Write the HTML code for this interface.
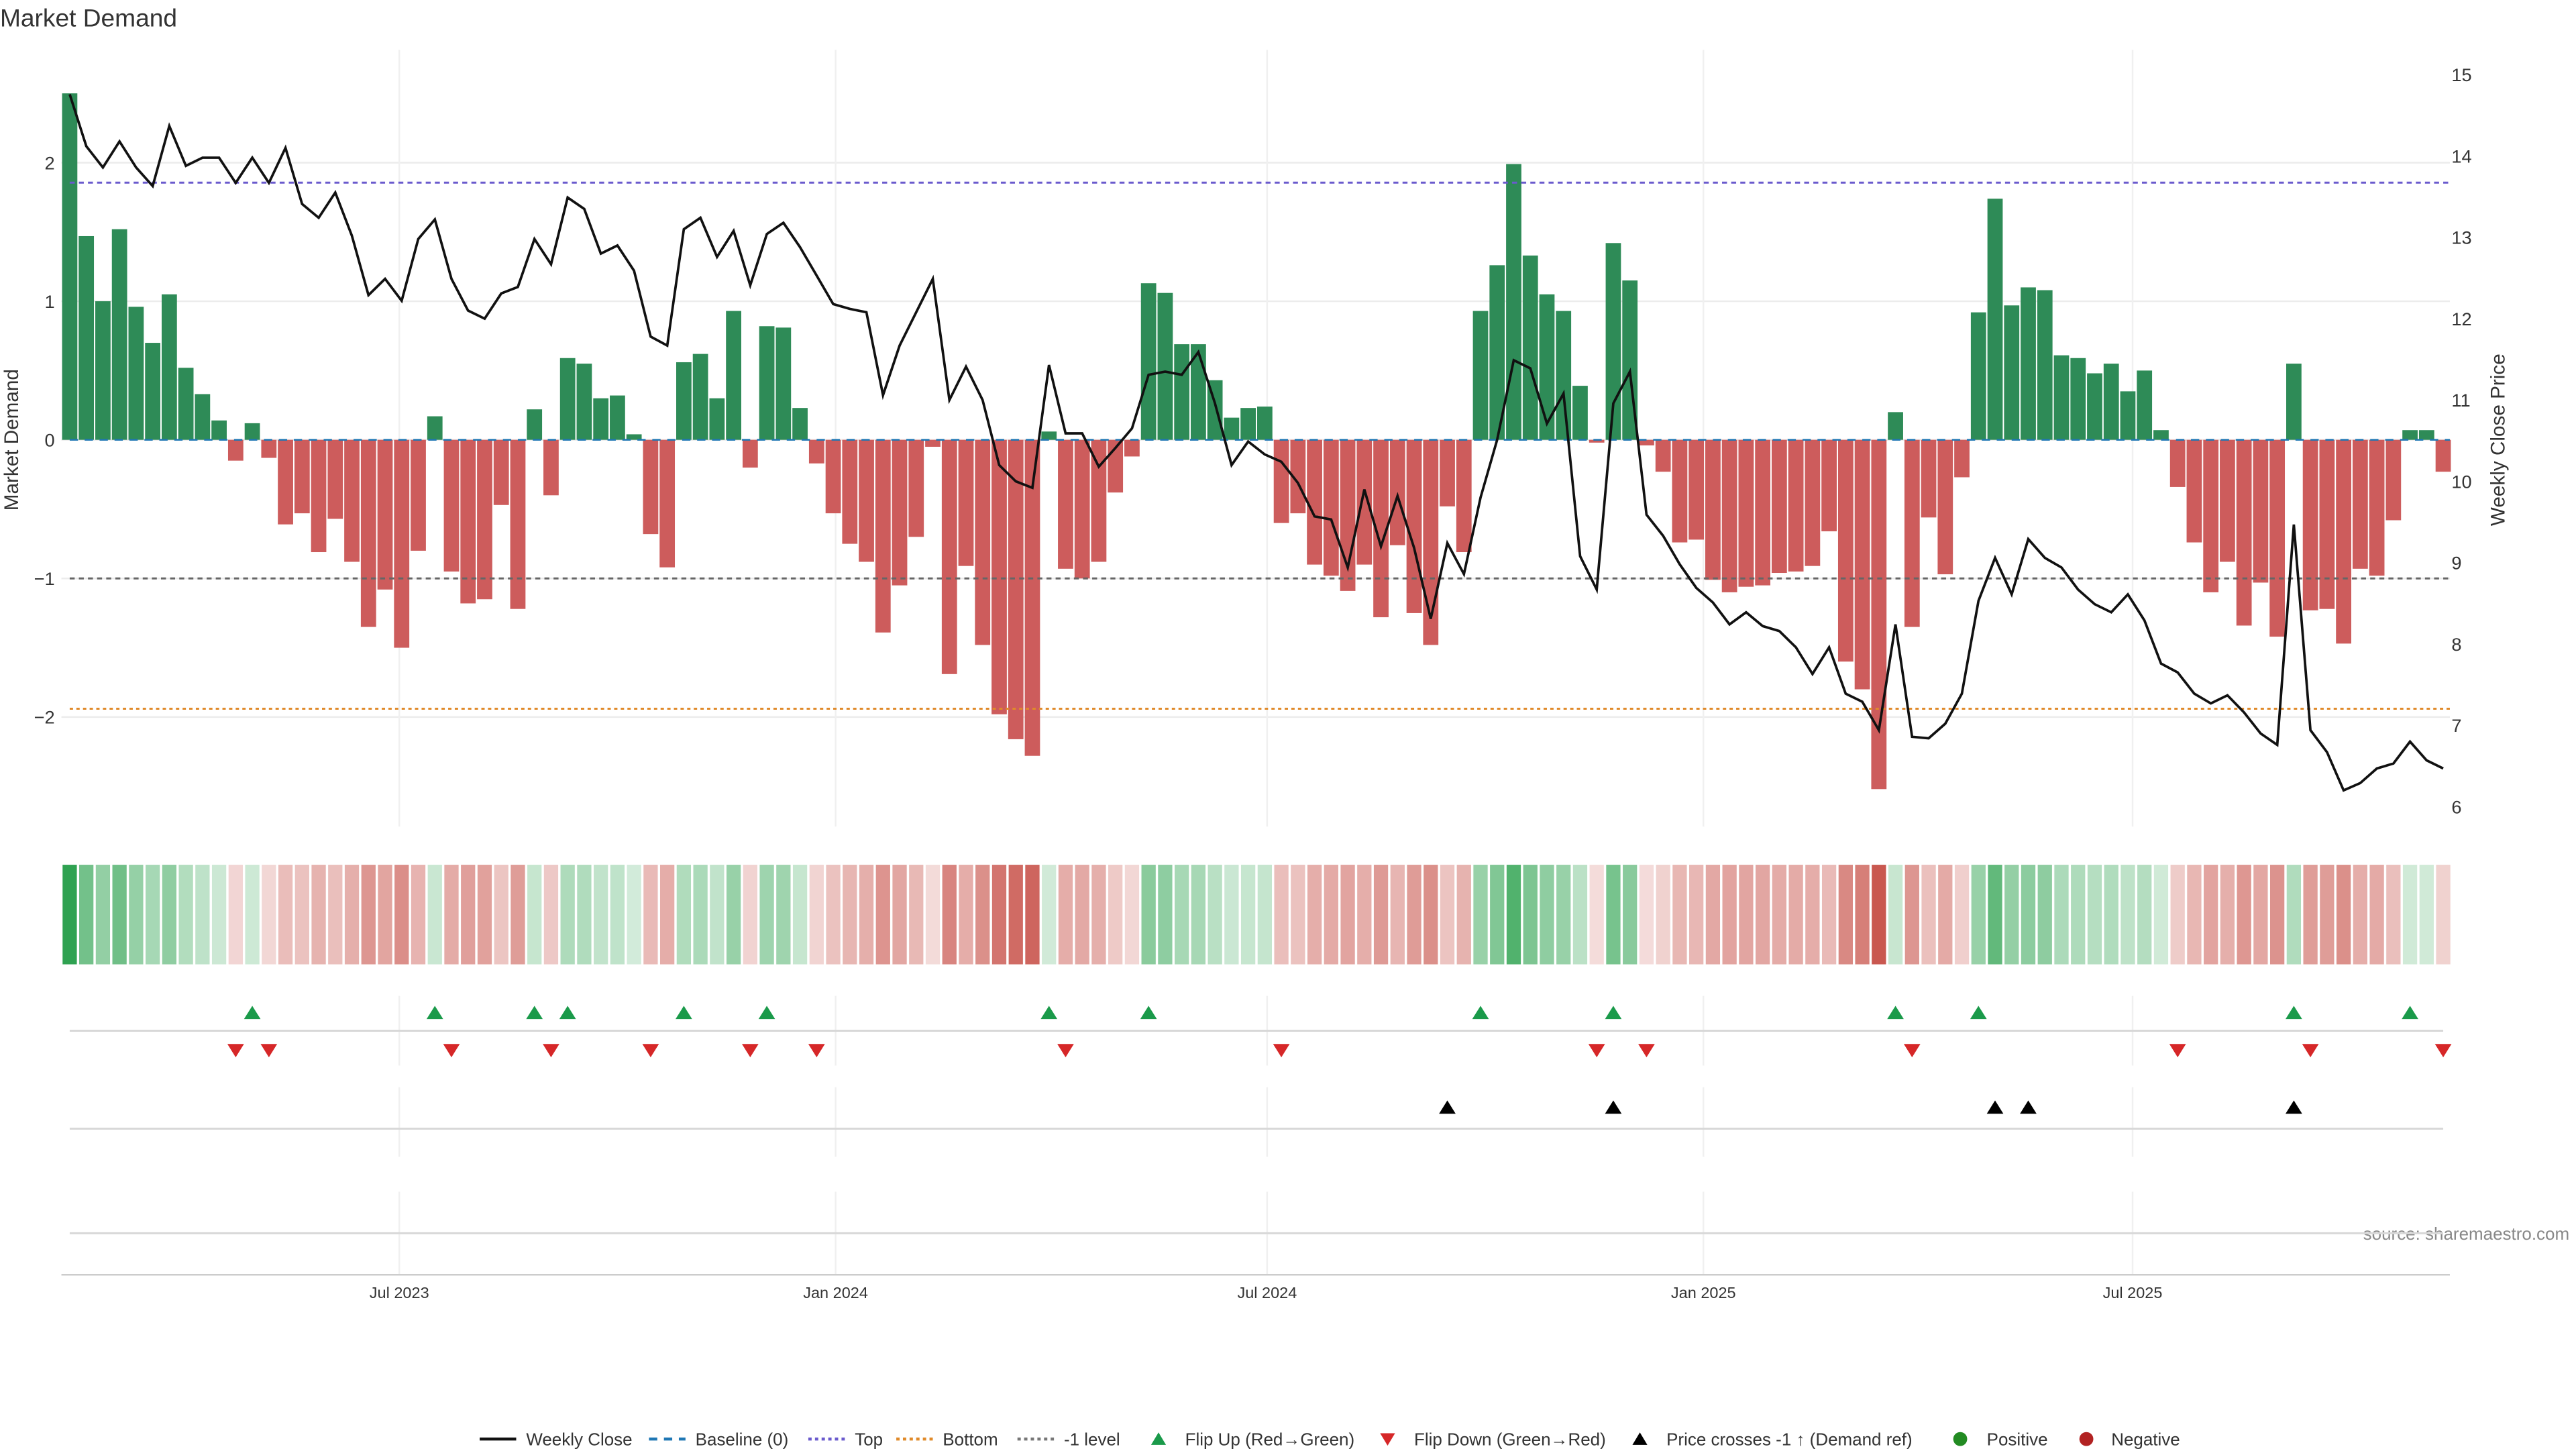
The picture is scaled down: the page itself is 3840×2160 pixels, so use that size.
<!DOCTYPE html>
<html><head><meta charset="utf-8">
<style>
html,body{margin:0;padding:0;background:#fff;}
svg{display:block;font-family:"Liberation Sans","DejaVu Sans",sans-serif;}
</style></head>
<body>
<svg id="chart" width="3840" height="2160" viewBox="0 0 1552 873" xmlns="http://www.w3.org/2000/svg">
<rect width="1552" height="873" fill="#fff"/>
<text x="0" y="16" font-size="15" fill="#333">Market Demand</text>
<text transform="translate(11,265) rotate(-90)" text-anchor="middle" font-size="12" fill="#333">Market Demand</text>
<text transform="translate(1509,265) rotate(-90)" text-anchor="middle" font-size="12" fill="#333">Weekly Close Price</text>
<text x="1548" y="747" text-anchor="end" font-size="10.5" fill="#888">source: sharemaestro.com</text>
<g id="grid"></g><g id="heat"></g><g id="bars"></g><g id="refs"></g><g id="price"></g><g id="marks"></g><g id="axes"></g>
<g id="legend"></g>
</svg>
<script>
const demand=[2.5,1.47,1.0,1.52,0.96,0.7,1.05,0.52,0.33,0.14,-0.15,0.12,-0.13,-0.61,-0.53,-0.81,-0.57,-0.88,-1.35,-1.08,-1.5,-0.8,0.17,-0.95,-1.18,-1.15,-0.47,-1.22,0.22,-0.4,0.59,0.55,0.3,0.32,0.04,-0.68,-0.92,0.56,0.62,0.3,0.93,-0.2,0.82,0.81,0.23,-0.17,-0.53,-0.75,-0.88,-1.39,-1.05,-0.7,-0.05,-1.69,-0.91,-1.48,-1.98,-2.16,-2.28,0.06,-0.93,-1.0,-0.88,-0.38,-0.12,1.13,1.06,0.69,0.69,0.43,0.16,0.23,0.24,-0.6,-0.53,-0.9,-0.98,-1.09,-0.9,-1.28,-0.76,-1.25,-1.48,-0.48,-0.81,0.93,1.26,1.99,1.33,1.05,0.93,0.39,-0.02,1.42,1.15,-0.04,-0.23,-0.74,-0.72,-1.01,-1.1,-1.06,-1.05,-0.96,-0.95,-0.91,-0.66,-1.6,-1.8,-2.52,0.2,-1.35,-0.56,-0.97,-0.27,0.92,1.74,0.97,1.1,1.08,0.61,0.59,0.48,0.55,0.35,0.5,0.07,-0.34,-0.74,-1.1,-0.88,-1.34,-1.03,-1.42,0.55,-1.23,-1.22,-1.47,-0.93,-0.98,-0.58,0.07,0.07,-0.23];
const closePrice=[14.76,14.12,13.86,14.18,13.86,13.63,14.37,13.88,13.98,13.98,13.67,13.98,13.67,14.10,13.41,13.24,13.55,13.02,12.29,12.49,12.22,12.98,13.22,12.49,12.10,12.0,12.31,12.39,12.98,12.67,13.49,13.35,12.80,12.90,12.59,11.78,11.67,13.10,13.24,12.76,13.08,12.41,13.04,13.18,12.88,12.53,12.18,12.12,12.08,11.06,11.67,12.08,12.49,11.0,11.41,11.0,10.20,10.0,9.92,11.43,10.59,10.59,10.18,10.41,10.65,11.31,11.35,11.31,11.59,10.96,10.20,10.49,10.33,10.24,9.98,9.57,9.53,8.94,9.90,9.20,9.82,9.18,8.31,9.24,8.86,9.80,10.51,11.49,11.39,10.71,11.08,9.08,8.67,10.96,11.35,9.59,9.33,8.98,8.69,8.51,8.24,8.39,8.22,8.16,7.96,7.63,7.96,7.39,7.29,6.94,8.24,6.86,6.84,7.02,7.39,8.53,9.06,8.61,9.29,9.06,8.94,8.67,8.49,8.39,8.61,8.29,7.76,7.65,7.39,7.27,7.37,7.16,6.90,6.76,9.47,6.94,6.67,6.20,6.29,6.47,6.53,6.80,6.57,6.47];
const priceCrossIdx=[83,93,116,118,134];
const leftTicks=[2,1,0,-1,-2];
const rightTicks=[15,14,13,12,11,10,9,8,7,6];
const xTickLabels=["Jul 2023","Jan 2024","Jul 2024","Jan 2025","Jul 2025"];
const xTickDates=["2023-07-01","2024-01-01","2024-07-01","2025-01-01","2025-07-01"];
const topLevel=1.856, bottomLevel=-1.94, minusOneLevel=-1;
const startDate="2023-02-12";

const NS="http://www.w3.org/2000/svg";
function mk(tag,attrs,parent){const e=document.createElementNS(NS,tag);for(const k in attrs)e.setAttribute(k,attrs[k]);parent.appendChild(e);return e;}
const X0=42, STEP=10, XL=37, XR=1476;
const xi=i=>X0+i*STEP;
const xd=d=>X0+(new Date(d)-new Date(startDate))/86400000/7*STEP;
const yL=v=>265-v*83.5;
const yR=p=>486-(p-6)*49;
const G=id=>document.getElementById(id);

// grid
const grid=G('grid');
leftTicks.forEach(v=>{const l=mk('line',{x1:XL,x2:XR,y1:yL(v),y2:yL(v),stroke:'#ececec','stroke-width':1},grid);

});
xTickDates.forEach(d=>{const x=xd(d);[[30,498],[600,642],[655,697],[718,768]].forEach(r=>{const l=mk('line',{x1:x,x2:x,y1:r[0],y2:r[1],stroke:'#f0f0f0','stroke-width':1},grid);

});});
[621,680,743].forEach(y=>{const l=mk('line',{x1:42,x2:1472,y1:y,y2:y,stroke:'#d8d8d8','stroke-width':1.2},grid);

});
{const l=mk('line',{x1:XL,x2:XR,y1:768,y2:768,stroke:'#ccc','stroke-width':1},grid);

}

// bars + heatmap
const bars=G('bars'),heat=G('heat');
demand.forEach((v,i)=>{const x=xi(i);const y0=yL(0),y1=yL(v);
const b=mk('rect',{x:x-4.6,width:9.2,y:Math.min(y0,y1),height:Math.max(0.6,Math.abs(y1-y0)),fill:v>=0?'#2e8b57':'#cd5c5c'},bars);


const a=Math.min(1,0.2+0.8*Math.abs(v)/2.55);
const c=mk('rect',{x:x-4.3,width:8.6,y:521,height:60,fill:v>=0?'#2ca14e':'#c9574f','fill-opacity':a.toFixed(3)},heat);

});

// reference lines
const refs=G('refs');
[[0,'#1f77b4','5,4',1],[topLevel,'#6a5acd','3,2.5',1.2],[bottomLevel,'#e08a2a','2,2',1.2],[minusOneLevel,'#666','3,2.5',1.2]].forEach(r=>{
const l=mk('line',{x1:XL+5,x2:XR,y1:yL(r[0]),y2:yL(r[0]),stroke:r[1],'stroke-dasharray':r[2],'stroke-width':r[3]},refs);

});

// price line
const pl=mk('polyline',{points:closePrice.map((p,i)=>xi(i)+','+yR(p).toFixed(1)).join(' '),fill:'none',stroke:'#111','stroke-width':1.5,'stroke-linejoin':'miter'},G('price'));



// flip markers
const marks=G('marks');
function tri(x,y,up,color,name){const s=5;const pts=up?`${x-s},${y+4} ${x+s},${y+4} ${x},${y-4}`:`${x-s},${y-4} ${x+s},${y-4} ${x},${y+4}`;
const t=mk('polygon',{points:pts,fill:color},marks);

}
for(let i=1;i<demand.length;i++){
 if(demand[i-1]<0&&demand[i]>=0)tri(xi(i),610,true,'#1a9a4a','flip-up-marker');
 if(demand[i-1]>=0&&demand[i]<0)tri(xi(i),633,false,'#d62728','flip-down-marker');}
priceCrossIdx.forEach(i=>tri(xi(i),667,true,'#000','price-cross-marker'));

// axes
const ax=G('axes');
leftTicks.forEach(v=>{const t=mk('text',{x:33,y:yL(v)+4,'text-anchor':'end','font-size':11,fill:'#333'},ax);t.textContent=v<0?'\u2212'+(-v):String(v);

});
rightTicks.forEach(v=>{const t=mk('text',{x:1477,y:yR(v)+4,'font-size':11,fill:'#333'},ax);t.textContent=v;

});
xTickDates.forEach((d,k)=>{const t=mk('text',{x:xd(d),y:782,'text-anchor':'middle','font-size':9.5,fill:'#333'},ax);t.textContent=xTickLabels[k];

});

// legend
const lg=G('legend');
const items=[
 ['line',289,'#111','',317,'Weekly Close'],
 ['line',391,'#1f77b4','5,4',419,'Baseline (0)'],
 ['line',487,'#6a5acd','2,2',515,'Top'],
 ['line',540,'#e08a2a','2,2',568,'Bottom'],
 ['line',613,'#777','2,2',641,'-1 level'],
 ['up',698,'#1a9a4a','',714,'Flip Up (Red\u2192Green)'],
 ['down',836,'#d62728','',852,'Flip Down (Green\u2192Red)'],
 ['up',988,'#000','',1004,'Price crosses -1 \u2191 (Demand ref)'],
 ['dot',1181,'#228b22','',1197,'Positive'],
 ['dot',1257,'#b22222','',1272,'Negative']];
items.forEach(it=>{const y=867;let m;
 if(it[0]==='line'){m=mk('line',{x1:it[1],x2:it[1]+22,y1:y,y2:y,stroke:it[2],'stroke-width':it[3]?1.8:1.8,'stroke-dasharray':it[3]||'none'},lg);}
 else if(it[0]==='up'){m=mk('polygon',{points:`${it[1]-4.5},${y+3.5} ${it[1]+4.5},${y+3.5} ${it[1]},${y-4}`,fill:it[2]},lg);}
 else if(it[0]==='down'){m=mk('polygon',{points:`${it[1]-4.5},${y-3.5} ${it[1]+4.5},${y-3.5} ${it[1]},${y+4}`,fill:it[2]},lg);}
 else {m=mk('circle',{cx:it[1],cy:y,r:4.2,fill:it[2]},lg);}
 
 
 const t=mk('text',{x:it[4],y:y+3.8,'font-size':10.5,fill:'#333'},lg);t.textContent=it[5];
 
 });
</script>
</body></html>
